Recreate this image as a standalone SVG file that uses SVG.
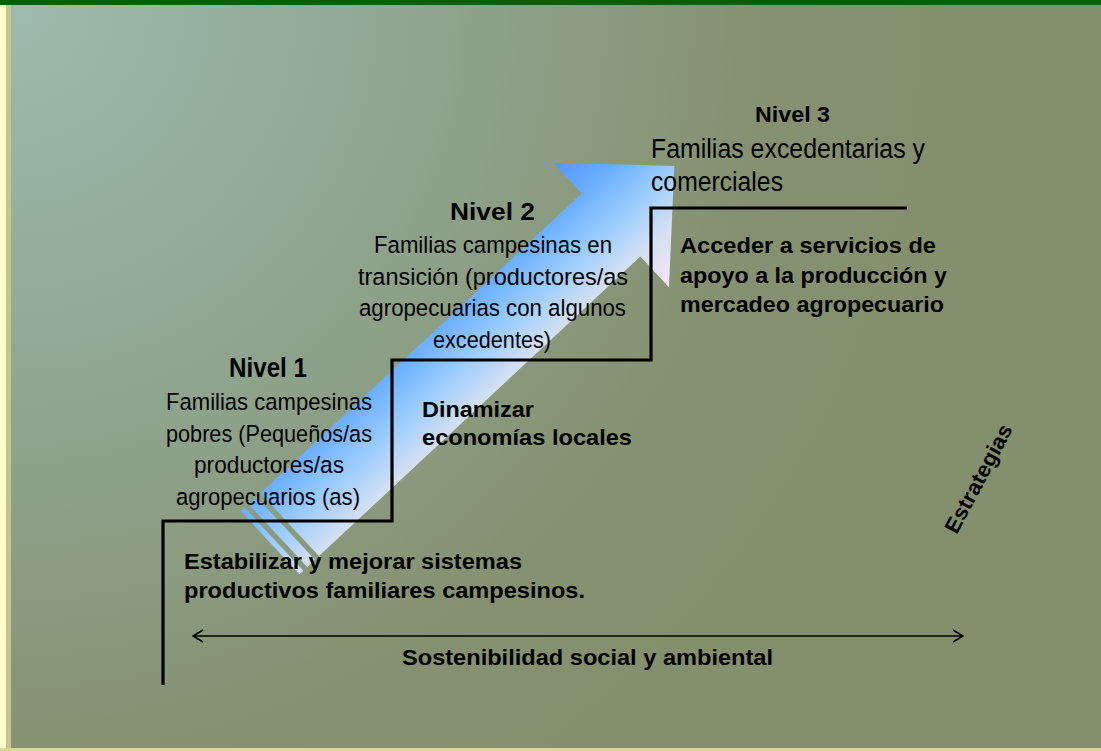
<svg xmlns="http://www.w3.org/2000/svg" width="1101" height="751" viewBox="0 0 1101 751">
<defs>
<radialGradient id="bg" gradientUnits="userSpaceOnUse" cx="11" cy="5" r="950">
<stop offset="0" stop-color="#9dbbad"/>
<stop offset="0.45" stop-color="#8fa48e"/>
<stop offset="0.8" stop-color="#859170"/>
<stop offset="1" stop-color="#848f6e"/>
</radialGradient>
<linearGradient id="arr" gradientUnits="userSpaceOnUse" x1="0" y1="-85" x2="0" y2="85">
<stop offset="0" stop-color="#5596ff"/>
<stop offset="0.25" stop-color="#6aaeff"/>
<stop offset="0.5" stop-color="#9accff"/>
<stop offset="0.75" stop-color="#d6e0f2"/>
<stop offset="1" stop-color="#f4e6f6"/>
</linearGradient>
<marker id="chev" viewBox="0 0 12 14" refX="11" refY="7" markerWidth="12" markerHeight="14" markerUnits="userSpaceOnUse" orient="auto-start-reverse">
<path d="M1,1 L11,7 L1,13" fill="none" stroke="#000" stroke-width="1.6"/>
</marker>
<style>
.t{font-family:"Liberation Sans",Arial,sans-serif;fill:#000}
.r{font-size:24.5px}
.r3{font-size:27px}
.b{font-size:21.5px;font-weight:bold}
.n{font-size:24px;font-weight:bold}
.stair{fill:none;stroke:#000;stroke-width:3.2}
</style>
</defs>
<rect x="0" y="0" width="1101" height="751" fill="url(#bg)"/>
<rect x="0" y="0" width="6" height="751" fill="#ffffcc"/>
<rect x="6" y="0" width="5" height="751" fill="#c5c68f"/>
<rect x="0" y="748" width="1101" height="3" fill="#d6d99a"/>
<rect x="0" y="0" width="1101" height="5" fill="#006000"/>

<g id="arrow" transform="translate(611,225) rotate(-43)" fill="url(#arr)">
<path d="M86.6,0 L0,-85 L0,-43 L-439.4,-43 L-439.4,43 L0,43 L0,85 Z"/>
<rect x="-455.4" y="-43" width="10.6" height="86"/>
<rect x="-466" y="-43" width="5.3" height="86"/>
</g>

<g id="connectors">
<path id="stairs" class="stair" d="M163,685 L163,521 L392,521 L392,360 L651,360 L651,208 L907,208"/>
<line id="sustain-arrow" x1="193" y1="636" x2="963" y2="636" stroke="#000" stroke-width="1.6" marker-start="url(#chev)" marker-end="url(#chev)"/>
</g>

<g id="nivel3">
<text class="t b" x="755" y="122" textLength="75" lengthAdjust="spacingAndGlyphs">Nivel 3</text>
<text class="t r3" x="651" y="158" textLength="274" lengthAdjust="spacingAndGlyphs">Familias excedentarias y</text>
<text class="t r3" x="651" y="191" textLength="132" lengthAdjust="spacingAndGlyphs">comerciales</text>
</g>

<g id="nivel2">
<text class="t n" x="450" y="220" textLength="85" lengthAdjust="spacingAndGlyphs">Nivel 2</text>
<text class="t r" x="374" y="253" textLength="238" lengthAdjust="spacingAndGlyphs">Familias campesinas en</text>
<text class="t r" x="358" y="284.5" textLength="270" lengthAdjust="spacingAndGlyphs">transición (productores/as</text>
<text class="t r" x="359" y="316" textLength="267" lengthAdjust="spacingAndGlyphs">agropecuarias con algunos</text>
<text class="t r" x="433" y="347.5" textLength="118" lengthAdjust="spacingAndGlyphs">excedentes)</text>
</g>

<g id="nivel1">
<text class="t" font-size="28" font-weight="bold" x="229" y="377" textLength="78" lengthAdjust="spacingAndGlyphs">Nivel 1</text>
<text class="t r" x="166" y="410" textLength="206" lengthAdjust="spacingAndGlyphs">Familias campesinas</text>
<text class="t r" x="166" y="441.5" textLength="206" lengthAdjust="spacingAndGlyphs">pobres (Pequeños/as</text>
<text class="t r" x="194" y="473" textLength="150" lengthAdjust="spacingAndGlyphs">productores/as</text>
<text class="t r" x="176" y="504.5" textLength="184" lengthAdjust="spacingAndGlyphs">agropecuarios (as)</text>
</g>

<g id="estrategia3">
<text class="t b" x="680" y="253" textLength="256" lengthAdjust="spacingAndGlyphs">Acceder a servicios de</text>
<text class="t b" x="680" y="283" textLength="267" lengthAdjust="spacingAndGlyphs">apoyo a la producción y</text>
<text class="t b" x="680" y="312" textLength="264" lengthAdjust="spacingAndGlyphs">mercadeo agropecuario</text>
</g>

<g id="estrategia2">
<text class="t b" x="422" y="417" textLength="112" lengthAdjust="spacingAndGlyphs">Dinamizar</text>
<text class="t b" x="422" y="445" textLength="210" lengthAdjust="spacingAndGlyphs">economías locales</text>
</g>

<g id="estrategia1">
<text class="t b" x="184" y="569" textLength="338" lengthAdjust="spacingAndGlyphs">Estabilizar y mejorar sistemas</text>
<text class="t b" x="184" y="598" textLength="401" lengthAdjust="spacingAndGlyphs">productivos familiares campesinos.</text>
</g>

<g id="sostenibilidad">
<text class="t b" x="402" y="665" textLength="371" lengthAdjust="spacingAndGlyphs">Sostenibilidad social y ambiental</text>
</g>

<g id="estrategias">
<text class="t b" font-size="20" x="0" y="0" text-anchor="middle" transform="translate(985,482) rotate(-62)" textLength="120" lengthAdjust="spacingAndGlyphs">Estrategias</text>
</g>
</svg>
